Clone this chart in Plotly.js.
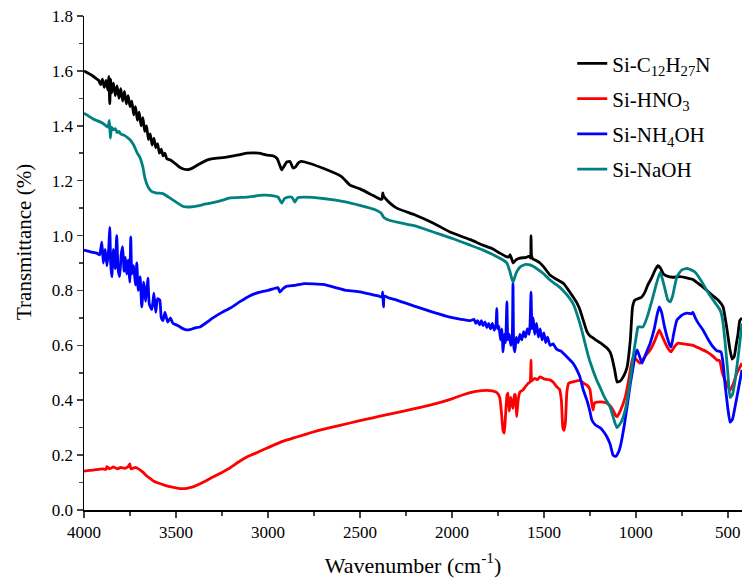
<!DOCTYPE html>
<html>
<head>
<meta charset="utf-8">
<script src="https://cdn.plot.ly/plotly-3.0.1.min.js"></script>
<style>html,body{margin:0;padding:0;background:#fff;}#chart{width:750px;height:581px;}</style>
</head>
<body>
<div id="chart"></div>
<script>
// ---- Data ----
const seriesNames = ["Si-C<sub>12</sub>H<sub>27</sub>N", "Si-HNO<sub>3</sub>", "Si-NH<sub>4</sub>OH", "Si-NaOH"];

const blackWn = [4000,3960,3930,3920,3910,3900,3890,3880,3870,3865,3860,3855,3850,3840,3830,3820,3810,3800,3790,3780,3770,3760,3750,3740,3730,3720,3710,3700,3690,3680,3670,3660,3650,3640,3630,3620,3610,3600,3590,3580,3570,3560,3550,3530,3500,3470,3441,3420,3400,3370,3332,3300,3224,3150,3115,3050,3006,2970,2950,2935,2925,2915,2898,2880,2864,2850,2836,2820,2800,2700,2600,2554,2500,2440,2391,2380,2376,2372,2365,2340,2300,2200,2100,2011,1900,1831,1780,1739,1710,1690,1684,1675,1668,1660,1650,1630,1600,1578,1572,1570,1567,1560,1540,1521,1500,1467,1430,1396,1370,1340,1320,1304,1290,1266,1250,1233,1215,1195,1175,1157,1140,1130,1115,1102,1085,1065,1048,1030,1018,1005,988,970,950,935,915,895,880,865,850,830,800,760,720,690,650,614,580,553,526,505,490,477,465,455,445,435,423];
const blackT  = [1.600,1.585,1.570,1.565,1.550,1.570,1.540,1.565,1.530,1.580,1.480,1.570,1.520,1.555,1.510,1.545,1.500,1.535,1.490,1.525,1.480,1.510,1.470,1.490,1.440,1.470,1.420,1.450,1.400,1.430,1.380,1.400,1.350,1.370,1.330,1.355,1.320,1.335,1.300,1.315,1.290,1.300,1.280,1.275,1.260,1.245,1.240,1.243,1.250,1.262,1.275,1.280,1.286,1.295,1.300,1.300,1.293,1.290,1.280,1.255,1.239,1.250,1.268,1.270,1.246,1.250,1.264,1.270,1.268,1.245,1.215,1.184,1.170,1.150,1.133,1.133,1.155,1.145,1.138,1.120,1.100,1.075,1.045,1.013,0.985,0.965,0.952,0.936,0.925,0.922,0.930,0.915,0.900,0.905,0.912,0.918,0.920,0.925,0.918,1.000,0.925,0.915,0.908,0.900,0.885,0.856,0.840,0.827,0.805,0.775,0.754,0.730,0.700,0.650,0.635,0.627,0.618,0.610,0.600,0.590,0.575,0.555,0.510,0.466,0.470,0.490,0.520,0.620,0.740,0.765,0.770,0.775,0.795,0.820,0.845,0.875,0.890,0.880,0.860,0.852,0.848,0.850,0.845,0.840,0.820,0.800,0.780,0.765,0.740,0.660,0.590,0.550,0.560,0.600,0.640,0.690,0.700];

const redWn = [4000,3950,3900,3880,3876,3860,3840,3820,3800,3780,3760,3751,3745,3720,3700,3680,3660,3640,3620,3604,3560,3520,3479,3440,3408,3360,3299,3250,3207,3160,3115,3050,2990,2920,2843,2750,2663,2554,2470,2391,2250,2119,2000,1939,1870,1810,1780,1756,1740,1730,1722,1715,1708,1700,1695,1688,1680,1675,1668,1660,1655,1648,1640,1630,1614,1600,1585,1575,1570,1566,1550,1535,1521,1500,1467,1450,1429,1415,1405,1397,1390,1383,1375,1365,1347,1304,1280,1266,1250,1240,1233,1225,1210,1178,1160,1140,1124,1110,1102,1085,1058,1040,1025,1015,1000,977,950,922,895,873,855,830,808,790,771,740,690,650,614,580,559,545,530,516,500,488,470,450,423];
const redT  = [0.142,0.145,0.150,0.148,0.158,0.150,0.157,0.150,0.155,0.152,0.158,0.168,0.150,0.155,0.148,0.138,0.125,0.115,0.105,0.100,0.090,0.083,0.078,0.079,0.084,0.098,0.120,0.137,0.153,0.175,0.193,0.212,0.230,0.250,0.266,0.285,0.300,0.317,0.330,0.342,0.362,0.382,0.405,0.420,0.432,0.436,0.434,0.428,0.410,0.350,0.290,0.280,0.350,0.420,0.426,0.360,0.410,0.390,0.370,0.420,0.420,0.340,0.400,0.430,0.437,0.450,0.462,0.466,0.546,0.470,0.480,0.475,0.485,0.478,0.474,0.466,0.448,0.440,0.400,0.300,0.290,0.320,0.430,0.462,0.466,0.472,0.460,0.455,0.440,0.390,0.364,0.390,0.393,0.393,0.390,0.380,0.364,0.345,0.340,0.360,0.410,0.470,0.530,0.557,0.550,0.535,0.560,0.583,0.620,0.656,0.630,0.594,0.576,0.595,0.608,0.605,0.600,0.588,0.576,0.560,0.546,0.545,0.500,0.474,0.450,0.437,0.460,0.500,0.535];

const blueWn = [4000,3960,3931,3915,3903,3895,3885,3875,3865,3860,3855,3849,3840,3830,3822,3815,3806,3798,3790,3782,3775,3768,3760,3751,3746,3740,3730,3720,3713,3705,3695,3686,3675,3665,3653,3645,3631,3620,3610,3600,3588,3580,3571,3560,3545,3530,3517,3490,3460,3441,3420,3400,3370,3330,3299,3250,3207,3150,3100,3044,3000,2960,2945,2935,2920,2900,2860,2843,2800,2700,2572,2500,2391,2380,2376,2372,2368,2340,2300,2191,2100,2011,1950,1900,1880,1870,1860,1850,1840,1831,1820,1810,1800,1790,1780,1770,1760,1756,1752,1745,1735,1728,1722,1715,1708,1701,1696,1688,1680,1672,1668,1664,1658,1650,1640,1630,1620,1610,1600,1590,1580,1575,1570,1565,1558,1550,1540,1530,1520,1510,1500,1490,1480,1467,1450,1430,1410,1396,1370,1342,1320,1304,1287,1266,1250,1239,1220,1195,1175,1157,1140,1124,1110,1095,1085,1065,1048,1030,1015,1005,993,980,966,945,922,900,885,873,860,845,830,815,808,795,777,750,722,700,690,679,660,635,610,580,560,537,525,516,500,488,475,461,440,423];
const blueT  = [0.947,0.940,0.936,0.930,0.976,0.900,0.950,0.890,0.960,1.030,0.900,0.850,0.950,0.880,1.000,0.880,0.850,0.930,0.960,0.870,0.920,0.860,0.910,0.830,0.995,0.860,0.890,0.820,0.900,0.800,0.850,0.740,0.830,0.760,0.845,0.750,0.730,0.790,0.720,0.770,0.765,0.700,0.690,0.720,0.685,0.700,0.680,0.672,0.660,0.656,0.658,0.663,0.667,0.685,0.700,0.720,0.735,0.760,0.780,0.794,0.800,0.808,0.810,0.794,0.805,0.815,0.818,0.820,0.825,0.822,0.800,0.795,0.778,0.775,0.795,0.740,0.780,0.772,0.765,0.740,0.720,0.703,0.695,0.690,0.695,0.680,0.690,0.675,0.690,0.672,0.685,0.665,0.680,0.660,0.680,0.655,0.675,0.735,0.660,0.670,0.620,0.660,0.576,0.640,0.610,0.758,0.620,0.640,0.600,0.630,0.827,0.600,0.576,0.630,0.610,0.640,0.620,0.650,0.630,0.660,0.640,0.680,0.794,0.660,0.700,0.640,0.680,0.630,0.660,0.620,0.645,0.610,0.630,0.600,0.605,0.585,0.580,0.572,0.555,0.535,0.510,0.485,0.440,0.400,0.360,0.328,0.310,0.300,0.285,0.266,0.240,0.200,0.195,0.210,0.230,0.300,0.375,0.460,0.520,0.560,0.583,0.560,0.535,0.570,0.608,0.660,0.710,0.740,0.720,0.670,0.630,0.600,0.594,0.640,0.692,0.710,0.717,0.715,0.720,0.703,0.680,0.656,0.625,0.594,0.580,0.576,0.530,0.463,0.370,0.320,0.330,0.375,0.450,0.510];

const tealWn = [4000,3950,3900,3880,3870,3862,3857,3850,3840,3830,3820,3810,3800,3780,3760,3751,3730,3710,3697,3680,3669,3650,3631,3604,3571,3540,3495,3460,3424,3380,3340,3299,3250,3207,3115,3028,2970,2945,2925,2910,2890,2870,2854,2838,2800,2700,2572,2500,2420,2385,2370,2337,2200,2102,2000,1900,1831,1760,1720,1701,1685,1668,1650,1630,1600,1575,1540,1500,1467,1430,1396,1370,1340,1300,1266,1249,1211,1195,1170,1140,1115,1102,1080,1058,1035,1015,995,988,961,940,912,890,868,855,840,826,813,800,777,750,722,700,679,640,614,580,543,530,516,500,488,475,461,440,423];
const tealT  = [1.446,1.425,1.410,1.400,1.395,1.420,1.355,1.395,1.385,1.390,1.375,1.380,1.370,1.365,1.355,1.350,1.330,1.300,1.286,1.250,1.210,1.175,1.160,1.155,1.153,1.140,1.120,1.106,1.104,1.108,1.115,1.120,1.128,1.137,1.140,1.147,1.145,1.140,1.118,1.135,1.140,1.140,1.122,1.138,1.140,1.135,1.122,1.110,1.095,1.082,1.066,1.055,1.035,1.013,0.990,0.965,0.947,0.925,0.910,0.900,0.870,0.830,0.865,0.885,0.895,0.893,0.880,0.860,0.838,0.820,0.800,0.780,0.750,0.670,0.580,0.540,0.470,0.448,0.410,0.375,0.320,0.300,0.320,0.364,0.450,0.557,0.645,0.667,0.667,0.700,0.765,0.820,0.867,0.840,0.800,0.765,0.758,0.780,0.850,0.875,0.880,0.875,0.867,0.830,0.800,0.765,0.730,0.700,0.620,0.500,0.410,0.420,0.470,0.580,0.680];

const seriesColors = ["#000000", "#ff0000", "#0000ff", "#008080"];
const xTickVals = [4000,3500,3000,2500,2000,1500,1000,500];
const xTitle = "Wavenumber (cm<sup>-1</sup>)";
const yTitle = "Transmittance (%)";

const xs = [blackWn, redWn, blueWn, tealWn];
const ys = [blackT, redT, blueT, tealT];

const traces = seriesNames.map((n, i) => ({
  type: "scatter", mode: "lines", name: n, legendgroup: "g" + i,
  x: xs[i], y: ys[i],
  line: {color: seriesColors[i], width: 2.8, shape: "spline", smoothing: 0.4}
}));

const FAM = "Liberation Serif";
const X_RANGE = [4000, 423];
const Y_RANGE = [0, 1.8];

const layout = {
  width: 750, height: 581,
  margin: {l: 84, r: 8, t: 16, b: 71},
  paper_bgcolor: "#fff", plot_bgcolor: "#fff",
  font: {family: FAM, color: "#000", size: 17},
  showlegend: true,
  legend: {x: 0.742, y: 0.945, xanchor: "left", yanchor: "top",
           font: {family: FAM, size: 21, color: "#000"},
           bgcolor: "rgba(0,0,0,0)", borderwidth: 0, tracegroupgap: 5},
  xaxis: {range: X_RANGE, tickvals: xTickVals, ticks: "outside", ticklen: 6, tickwidth: 1.5,
          showline: true, linewidth: 1.5, linecolor: "#000", showgrid: false, zeroline: false,
          minor: {ticks: "outside", dtick: 250, tick0: 0, ticklen: 4, tickwidth: 1.5},
          tickfont: {family: FAM, size: 17},
          title: {text: xTitle, font: {family: FAM, size: 22}, standoff: 16}},
  yaxis: {range: Y_RANGE, dtick: 0.2, tick0: 0, tickformat: ".1f", ticks: "outside", ticklen: 6, tickwidth: 1.5,
          showline: true, linewidth: 1.5, linecolor: "#000", showgrid: false, zeroline: false,
          minor: {ticks: "outside", dtick: 0.1, ticklen: 4, tickwidth: 1.5},
          tickfont: {family: FAM, size: 17}},
  xaxis2: {range: X_RANGE, overlaying: "x", side: "top", anchor: "y", tickvals: xTickVals,
           ticks: "inside", ticklen: 5, tickwidth: 1.5, showticklabels: false,
           showline: true, linewidth: 1.5, linecolor: "#000", showgrid: false, zeroline: false,
           minor: {ticks: "inside", dtick: 250, tick0: 0, ticklen: 3, tickwidth: 1.5}},
  yaxis2: {range: Y_RANGE, overlaying: "y", side: "right", anchor: "x", dtick: 0.2, tick0: 0,
           ticks: "inside", ticklen: 5, tickwidth: 1.5, showticklabels: false,
           showline: true, linewidth: 1.5, linecolor: "#000", showgrid: false, zeroline: false,
           minor: {ticks: "inside", dtick: 0.1, ticklen: 3, tickwidth: 1.5}},
  annotations: [{
    text: yTitle, textangle: -90, showarrow: false,
    xref: "paper", yref: "paper", x: -0.092, y: 0.5435, xanchor: "center", yanchor: "middle",
    font: {family: FAM, size: 21, color: "#000"}
  }]
};

Plotly.newPlot("chart", traces, layout, {displayModeBar: false, staticPlot: true});
</script>
</body>
</html>
